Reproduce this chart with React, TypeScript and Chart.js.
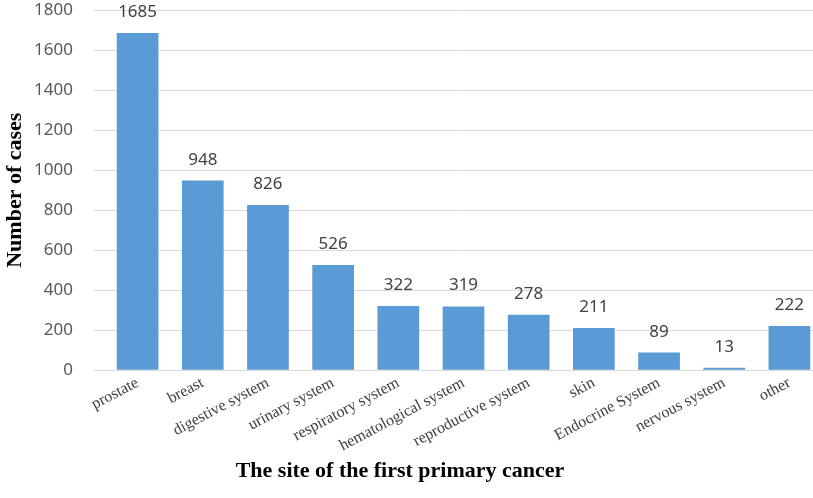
import React, { useEffect, useRef } from "react";
import { Chart, registerables } from "chart.js";

Chart.register(...registerables);

const siteLabels = [
  "prostate",
  "breast",
  "digestive system",
  "urinary system",
  "respiratory system",
  "hematological system",
  "reproductive system",
  "skin",
  "Endocrine System",
  "nervous system",
  "other",
];

const caseCounts = [1685, 948, 826, 526, 322, 319, 278, 211, 89, 13, 222];

const yMin = 0;
const yMax = 1800;
const yStep = 200;

// draws the value above each bar (no datalabels package available)
const valueLabels = {
  id: "valueLabels",
  afterDatasetsDraw(chart: any) {
    const { ctx } = chart;
    const meta = chart.getDatasetMeta(0);
    ctx.save();
    ctx.font = "17px 'Noto Sans', sans-serif";
    ctx.fillStyle = "#404040";
    ctx.textAlign = "center";
    ctx.textBaseline = "alphabetic";
    meta.data.forEach((bar: any, i: number) => {
      ctx.fillText(String(caseCounts[i]), bar.x, bar.y - 16);
    });
    ctx.restore();
  },
};

const App: React.FC = () => {
  const chartRef = useRef<HTMLCanvasElement | null>(null);

  useEffect(() => {
    if (!chartRef.current) return;
    const ctx = chartRef.current.getContext("2d");
    if (!ctx) return;

    const chart = new Chart(ctx, {
      type: "bar",
      data: {
        labels: siteLabels,
        datasets: [
          {
            label: "Number of cases",
            data: caseCounts,
            backgroundColor: "#5b9bd5",
            categoryPercentage: 1,
            barPercentage: 0.64,
          },
        ],
      },
      options: {
        animation: false,
        responsive: true,
        maintainAspectRatio: false,
        layout: {
          padding: { top: 0, right: 0, bottom: 0, left: -22 },
        },
        plugins: {
          legend: { display: false },
          tooltip: { enabled: false },
          title: {
            display: true,
            position: "bottom",
            text: "The site of the first primary cancer",
            color: "#000",
            font: { family: "'Liberation Serif', serif", size: 22, weight: "bold" },
            padding: { top: 0, bottom: 13 },
          },
        },
        scales: {
          x: {
            grid: { display: false, drawTicks: false },
            border: { display: false },
            ticks: {
              color: "#404040",
              font: { family: "'Liberation Serif', serif", size: 16 },
              minRotation: 28,
              maxRotation: 28,
              padding: 3,
              autoSkip: false,
            },
          },
          y: {
            min: yMin,
            max: yMax,
            border: { display: false },
            grid: {
              color: "#d9d9d9",
              lineWidth: 1,
              drawTicks: true,
              tickLength: 11,
            },
            ticks: {
              stepSize: yStep,
              color: "#595959",
              padding: 21,
              font: { family: "'Noto Sans', sans-serif", size: 17 },
              callback: (value: any) => String(value),
            },
            title: {
              display: true,
              text: "Number of cases",
              color: "#000",
              font: { family: "'Liberation Serif', serif", size: 22, weight: "bold" },
              padding: { top: 24, bottom: 4 },
            },
            afterFit: (scale: any) => {
              scale.width = 127;
              scale.paddingTop = 10;
              scale.paddingBottom = 10;
            },
          },
        },
      },
      plugins: [valueLabels],
    });

    return () => {
      chart.destroy();
    };
  }, []);

  return (
    <div style={{ position: "absolute", left: 0, top: 0, width: 813, height: 498, overflow: "hidden" }}>
      <div style={{ position: "relative", width: 822, height: 498 }}>
        <canvas ref={chartRef} />
      </div>
    </div>
  );
};

export default App;
